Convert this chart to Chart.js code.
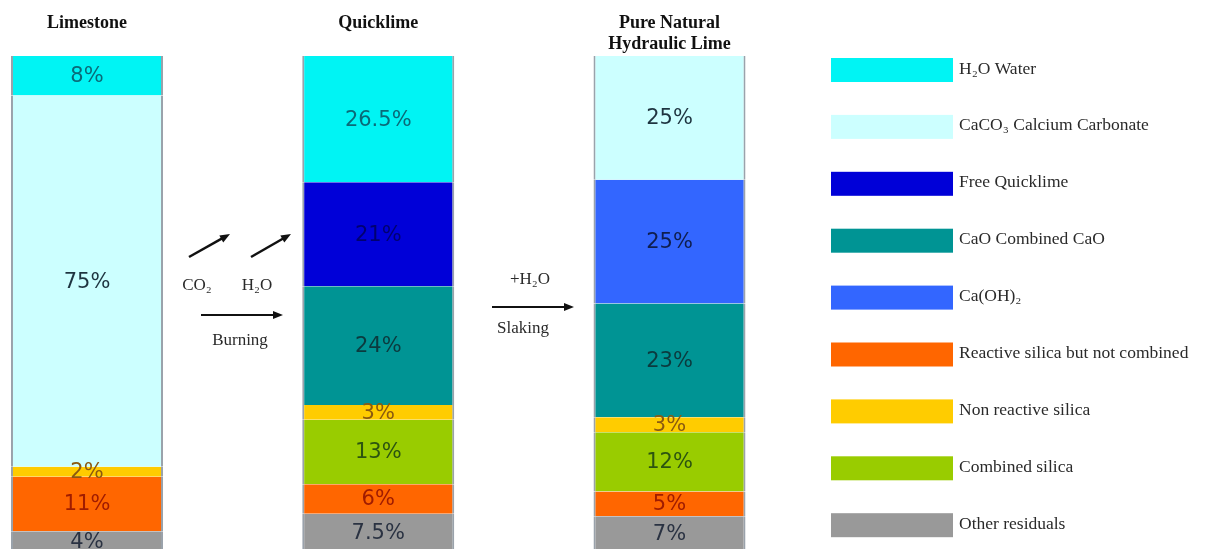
<!DOCTYPE html>
<html>
<head>
<meta charset="utf-8">
<script src="https://cdn.jsdelivr.net/npm/chart.js@4.4.0/dist/chart.umd.min.js"></script>
<style>
  html, body { margin: 0; padding: 0; background: #ffffff; overflow: hidden; }
  #wrap { width: 1207px; height: 549px; position: relative; }
</style>
</head>
<body>
<div id="wrap"><canvas id="c"></canvas></div>
<script>
// ---- data ----
const categories = ['Limestone', 'Quicklime', 'Pure Natural\nHydraulic Lime'];

// series (stacked bottom -> top)
const otherResiduals    = [4, 7.5, 7];
const reactiveSilica    = [11, 6, 5];
const combinedSilica    = [0, 13, 12];
const nonReactiveSilica = [2, 3, 3];
const combinedCaO       = [0, 24, 23];
const freeQuicklime     = [0, 21, 0];
const calciumHydroxide  = [0, 0, 25];
const calciumCarbonate  = [75, 0, 25];
const water             = [8, 26.5, 0];

const seriesNames = [
  'Other residuals',
  'Reactive silica but not combined',
  'Combined silica',
  'Non reactive silica',
  'CaO Combined CaO',
  'Free Quicklime',
  'Ca(OH)\u2082',
  'CaCO\u2083 Calcium Carbonate',
  'H\u2082O Water'
];
const seriesValues = [otherResiduals, reactiveSilica, combinedSilica, nonReactiveSilica,
  combinedCaO, freeQuicklime, calciumHydroxide, calciumCarbonate, water];

const legendOrder = [
  'H\u2082O Water',
  'CaCO\u2083 Calcium Carbonate',
  'Free Quicklime',
  'CaO Combined CaO',
  'Ca(OH)\u2082',
  'Reactive silica but not combined',
  'Non reactive silica',
  'Combined silica',
  'Other residuals'
];

// ---- styles ----
const fillColors = ['#999999', '#FF6600', '#99CC00', '#FFCC00', '#009494', '#0000D8', '#3366FF', '#CCFFFF', '#00F4F4'];
const labelColors = ['#2a3242', '#a01c00', '#2c5410', '#8a5a10', '#0b3a3e', '#000070', '#0f1e4e', '#1e3440', '#0a6a78'];

const datasets = seriesNames.map((name, k) => ({
  label: name,
  data: seriesValues[k].map((v, i) => ({ x: i, y: v })),
  backgroundColor: fillColors[k],
  borderColor: '#9aa2ab',
  borderWidth: { left: 2, right: 2, top: 0, bottom: 0 },
  borderSkipped: false,
  clip: 0,
  barPercentage: 0.522,
  categoryPercentage: 1.0
}));

const valueLabels = {
  id: 'valueLabels',
  afterDatasetsDraw(chart) {
    const ctx = chart.ctx;
    ctx.save();
    ctx.font = '21px "DejaVu Sans", Verdana, sans-serif';
    ctx.textAlign = 'center';
    ctx.textBaseline = 'middle';
    chart.data.datasets.forEach((ds, k) => {
      const meta = chart.getDatasetMeta(k);
      meta.data.forEach((el, i) => {
        const v = ds.data[i].y;
        if (!v) return;
        const p = el.getProps(['x', 'y', 'base'], true);
        const top = Math.max(p.y, chart.chartArea.top);
        ctx.fillStyle = labelColors[k];
        ctx.fillText(v + '%', p.x, (top + p.base) / 2 + 1);
      });
    });
    ctx.restore();
  }
};

const sideLegend = {
  id: 'sideLegend',
  afterDraw(chart) {
    const ctx = chart.ctx;
    ctx.save();
    ctx.font = '17.5px "Liberation Serif", "Times New Roman", serif';
    ctx.textAlign = 'left';
    ctx.textBaseline = 'middle';
    legendOrder.forEach((name, i) => {
      const ds = chart.data.datasets.find(d => d.label === name);
      const top = 58 + i * 56.9;
      ctx.fillStyle = ds.backgroundColor;
      ctx.fillRect(831, top, 122, 24);
      ctx.fillStyle = '#2a2a2a';
      ctx.fillText(name, 959, top + 11);
    });
    ctx.restore();
  }
};

function arrow(ctx, x1, y1, x2, y2) {
  const a = Math.atan2(y2 - y1, x2 - x1);
  const h = 10;
  ctx.beginPath();
  ctx.moveTo(x1, y1);
  ctx.lineTo(x2 - Math.cos(a) * h * 0.7, y2 - Math.sin(a) * h * 0.7);
  ctx.stroke();
  ctx.beginPath();
  ctx.moveTo(x2, y2);
  ctx.lineTo(x2 - h * Math.cos(a) + 4 * Math.sin(a), y2 - h * Math.sin(a) - 4 * Math.cos(a));
  ctx.lineTo(x2 - h * Math.cos(a) - 4 * Math.sin(a), y2 - h * Math.sin(a) + 4 * Math.cos(a));
  ctx.closePath();
  ctx.fill();
}

const processNotes = {
  id: 'processNotes',
  afterDraw(chart) {
    const ctx = chart.ctx;
    ctx.save();
    ctx.strokeStyle = '#111';
    ctx.fillStyle = '#111';
    ctx.lineWidth = 2.5;
    arrow(ctx, 189, 257, 230, 234);
    arrow(ctx, 251, 257, 291, 234);
    ctx.lineWidth = 2;
    arrow(ctx, 201, 315, 283, 315);
    arrow(ctx, 492, 307, 574, 307);
    ctx.font = '17px "Liberation Serif", "Times New Roman", serif';
    ctx.textAlign = 'center';
    ctx.textBaseline = 'middle';
    ctx.fillStyle = '#2a2a2a';
    ctx.fillText('CO\u2082', 197, 286);
    ctx.fillText('H\u2082O', 257, 286);
    ctx.fillText('Burning', 240, 341);
    ctx.fillText('+H\u2082O', 530, 280);
    ctx.fillText('Slaking', 523, 329);
    ctx.restore();
  }
};

new Chart(document.getElementById('c'), {
  type: 'bar',
  data: { datasets },
  options: {
    responsive: true,
    maintainAspectRatio: false,
    animation: false,
    layout: { padding: { left: 0, right: 387, top: 0, bottom: 0 } },
    plugins: { legend: { display: false }, tooltip: { enabled: false } },
    scales: {
      x: {
        type: 'linear',
        position: 'top',
        stacked: true,
        offset: false,
        min: -0.2987,
        max: 2.5167,
        grid: { display: false, drawTicks: false, offset: false },
        border: { display: false },
        afterBuildTicks: s => { s.ticks = categories.map((c, i) => ({ value: i })); },
        afterFit: s => { s.height = 56; },
        ticks: {
          autoSkip: false,
          maxRotation: 0,
          padding: 1.5,
          crossAlign: 'far',
          color: '#111',
          font: { family: '"Liberation Serif", "Times New Roman", serif', size: 18, weight: 'bold', lineHeight: 1.17 },
          callback: v => categories[Math.round(v)].split('\n')
        }
      },
      y: {
        stacked: true,
        display: false,
        min: 0.4,
        max: 100
      }
    }
  },
  plugins: [valueLabels, sideLegend, processNotes]
});
</script>
</body>
</html>
